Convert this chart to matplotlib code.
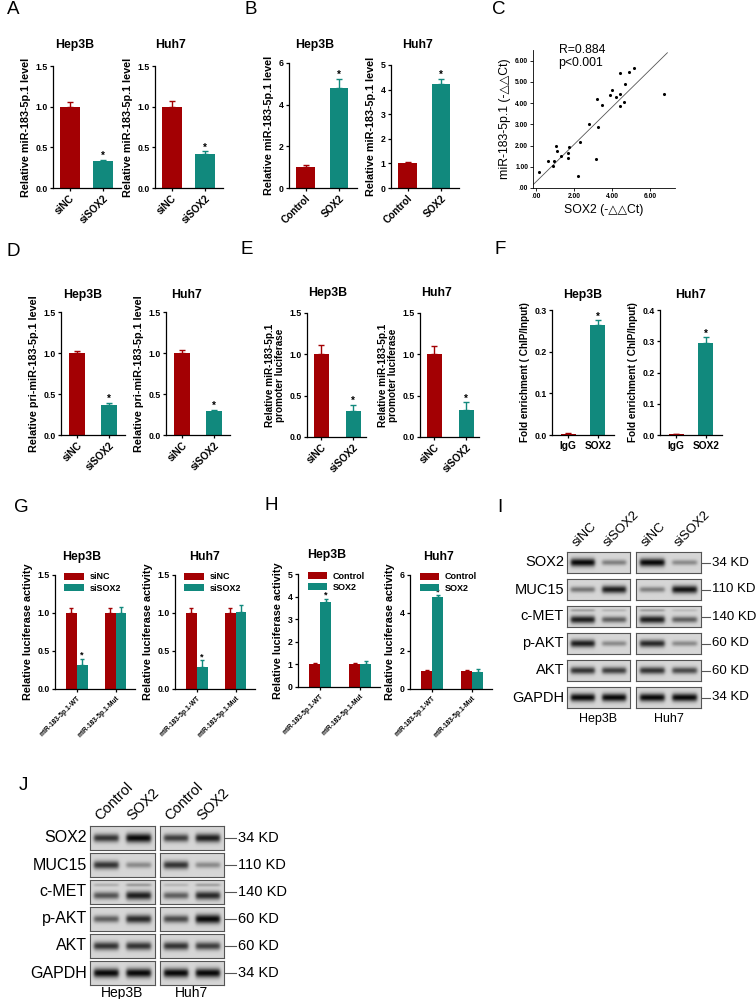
import numpy as np
import matplotlib
matplotlib.use('Agg')
import matplotlib.pyplot as plt
from matplotlib.lines import Line2D

plt.rcParams['font.family'] = ['Liberation Sans', 'DejaVu Sans']

W, H = 756, 999
RED = '#a30003'
TEAL = '#11897d'

# ---------------- data ----------------
si_names = ['siNC', 'siSOX2']
oe_names = ['Control', 'SOX2']
chip_names = ['IgG', 'SOX2']
luc_names = ['miR-183-5p.1-WT', 'miR-183-5p.1-Mut']

# A: miR-183-5p.1 after SOX2 knockdown
A_hep = [1.00, 0.33]
A_hep_err = [0.06, 0.02]
A_huh = [1.00, 0.42]
A_huh_err = [0.07, 0.03]

# B: miR-183-5p.1 after SOX2 overexpression
B_hep = [1.00, 4.82]
B_hep_err = [0.09, 0.42]
B_huh = [1.00, 4.22]
B_huh_err = [0.07, 0.22]

# C: correlation in tissues
C_sox2 = [0.18, 0.65, 0.88, 0.93, 1.04, 1.12, 1.32, 1.70, 1.68, 1.75, 2.21, 2.33,
          2.81, 3.16, 3.19, 3.28, 3.47, 3.89, 3.98, 4.18, 4.44, 4.44, 4.44, 4.65,
          4.68, 4.91, 5.16, 6.70]
C_mir = [0.74, 1.26, 1.05, 1.26, 1.99, 1.73, 1.52, 1.41, 1.66, 1.93, 0.58, 2.18,
         3.00, 1.37, 4.19, 2.86, 3.89, 4.40, 4.60, 4.30, 5.43, 4.41, 3.88, 4.07,
         4.90, 5.46, 5.67, 4.43]
C_fit_x = [-0.15, 6.9]
C_fit_y = [0.15, 6.37]

# D: pri-miR-183-5p.1
D_hep = [1.00, 0.36]
D_hep_err = [0.03, 0.03]
D_huh = [1.00, 0.29]
D_huh_err = [0.04, 0.02]

# E: promoter luciferase
E_hep = [1.00, 0.32]
E_hep_err = [0.11, 0.07]
E_huh = [1.00, 0.33]
E_huh_err = [0.10, 0.09]

# F: ChIP
F_hep = [0.003, 0.265]
F_hep_err = [0.002, 0.010]
F_huh = [0.002, 0.293]
F_huh_err = [0.001, 0.020]

# G: luciferase WT / Mut, siNC vs siSOX2
G_hep_nc = [1.00, 1.00]
G_hep_nc_err = [0.06, 0.06]
G_hep_si = [0.31, 1.00]
G_hep_si_err = [0.09, 0.08]
G_huh_nc = [1.00, 1.00]
G_huh_nc_err = [0.07, 0.07]
G_huh_si = [0.29, 1.01]
G_huh_si_err = [0.09, 0.09]

# H: luciferase WT / Mut, Control vs SOX2
H_hep_ctl = [1.00, 1.00]
H_hep_ctl_err = [0.08, 0.08]
H_hep_sox = [3.78, 1.00]
H_hep_sox_err = [0.12, 0.16]
H_huh_ctl = [0.95, 0.93]
H_huh_ctl_err = [0.05, 0.08]
H_huh_sox = [4.85, 0.92]
H_huh_sox_err = [0.10, 0.12]

# tick labels
t15 = ['0.0', '0.5', '1.0', '1.5']
t15_v = [0, 0.5, 1.0, 1.5]

# I / J western blots (band darkness 0..1, per lane)
wb_proteins = ['SOX2', 'MUC15', 'c-MET', 'p-AKT', 'AKT', 'GAPDH']
wb_kd = ['34 KD', '110 KD', '140 KD', '60 KD', '60 KD', '34 KD']
I_lanes = ['siNC', 'siSOX2']
I_hep = [[0.95, 0.40], [0.45, 0.85], [0.85, 0.55], [0.85, 0.35], [0.75, 0.70], [0.95, 0.95]]
I_huh = [[0.95, 0.35], [0.40, 0.90], [0.85, 0.55], [0.80, 0.35], [0.75, 0.65], [0.95, 0.95]]
I_cmet_upper = [[0.25, 0.15], [0.25, 0.12]]
J_lanes = ['Control', 'SOX2']
J_hep = [[0.75, 0.95], [0.75, 0.35], [0.60, 0.85], [0.55, 0.80], [0.75, 0.75], [0.95, 0.95]]
J_huh = [[0.70, 0.85], [0.75, 0.35], [0.55, 0.80], [0.65, 0.95], [0.75, 0.70], [0.95, 0.95]]
J_cmet_upper = [[0.18, 0.28], [0.15, 0.25]]
cells = ['Hep3B', 'Huh7']

# ---------------- figure ----------------
fig = plt.figure(figsize=(W / 100, H / 100), dpi=100)


def box(x0, y0, x1, y1):
    return fig.add_axes([x0 / W, 1 - y1 / H, (x1 - x0) / W, (y1 - y0) / H])


def ftext(x, y, s, **kw):
    fig.text(x / W, 1 - y / H, s, **kw)


def style(ax, yt, ytl, ylabel, ylfs=7.8):
    for s in ['top', 'right']:
        ax.spines[s].set_visible(False)
    for s in ['left', 'bottom']:
        ax.spines[s].set_linewidth(0.9)
    ax.set_ylim(0, yt[-1])
    ax.set_yticks(yt)
    ax.set_yticklabels(ytl, fontsize=6.3, fontweight='bold')
    ax.tick_params(length=2.5, width=0.9, pad=1.5)
    ax.set_ylabel(ylabel, fontsize=ylfs, fontweight='bold', labelpad=3, linespacing=1.0)


def two_bar(pos, vals, errs, names, yt, ytl, ylabel, title, txy, width=0.6,
            xlim=(-0.5, 1.55), rot=True, ylfs=7.8):
    ax = box(*pos)
    x = np.arange(len(vals))
    cols = [RED, TEAL]
    ax.bar(x, vals, width, color=cols)
    for xi, v, e, c in zip(x, vals, errs, cols):
        ax.errorbar(xi, v, yerr=[[0], [e]], color=c, capsize=2, elinewidth=1, capthick=1)
    ax.text(x[1], vals[1] + errs[1] - 0.01 * yt[-1], '*', ha='center', va='bottom',
            fontsize=7, fontweight='bold')
    ax.set_xlim(*xlim)
    ax.set_xticks(x)
    if rot:
        ax.set_xticklabels(names, rotation=45, ha='right', rotation_mode='anchor',
                           fontsize=7.3, fontweight='bold')
    else:
        ax.set_xticklabels(names, fontsize=7.3, fontweight='bold')
    style(ax, yt, ytl, ylabel, ylfs)
    ftext(txy[0], txy[1], title, ha='center', va='center', fontsize=8.8, fontweight='bold')
    return ax


def group_bar(pos, s1, e1, s2, e2, leg, yt, ytl, title, txy):
    ax = box(*pos)
    x = np.arange(2)
    w = 0.28
    ax.bar(x - w / 2, s1, w, color=RED, label=leg[0])
    ax.bar(x + w / 2, s2, w, color=TEAL, label=leg[1])
    for xi, v, e in zip(x - w / 2, s1, e1):
        ax.errorbar(xi, v, yerr=[[0], [e]], color=RED, capsize=1.6, elinewidth=1, capthick=1)
    for xi, v, e in zip(x + w / 2, s2, e2):
        ax.errorbar(xi, v, yerr=[[0], [e]], color=TEAL, capsize=1.6, elinewidth=1, capthick=1)
    ax.text(x[0] + w / 2, s2[0] + e2[0] - 0.01 * yt[-1], '*', ha='center', va='bottom',
            fontsize=6.5, fontweight='bold')
    ax.set_xlim(-0.56, 1.5)
    ax.set_xticks(x)
    ax.set_xticklabels(luc_names, rotation=45, ha='right', rotation_mode='anchor',
                       fontsize=4.8, fontweight='bold')
    style(ax, yt, ytl, 'Relative luciferase activity')
    ax.legend(loc='upper left', bbox_to_anchor=(0.05, 1.07), frameon=False,
              prop={'size': 6.5, 'weight': 'bold'}, handlelength=2.2, handleheight=0.9,
              labelspacing=0.25, borderpad=0.1, handletextpad=0.6)
    ftext(txy[0], txy[1], title, ha='center', va='center', fontsize=8.8, fontweight='bold')
    return ax


# panel letters
for lab, (lx, ly) in {'A': (7, 10), 'B': (244, 10), 'C': (492, 10), 'D': (7, 252),
                      'E': (241, 250), 'F': (494, 250), 'G': (14, 507), 'H': (264, 506),
                      'I': (497, 507), 'J': (19, 785)}.items():
    ftext(lx, ly, lab, ha='left', va='center', fontsize=13.5)

ylab_mir = 'Relative miR-183-5p.1 level'
two_bar((53, 66, 121, 188), A_hep, A_hep_err, si_names, t15_v, t15, ylab_mir, 'Hep3B', (75, 45))
two_bar((155, 66, 223, 188), A_huh, A_huh_err, si_names, t15_v, t15, ylab_mir, 'Huh7', (170, 45))

two_bar((289, 63, 357, 188), B_hep, B_hep_err, oe_names, [0, 2, 4, 6], ['0', '2', '4', '6'],
        ylab_mir, 'Hep3B', (315, 45), width=0.55)
two_bar((391, 65, 459, 188), B_huh, B_huh_err, oe_names, [0, 1, 2, 3, 4, 5],
        ['0', '1', '2', '3', '4', '5'], ylab_mir, 'Huh7', (417, 45), width=0.55)

# C scatter
axc = box(533, 50, 675, 188)
axc.scatter(C_sox2, C_mir, s=1.5, color='black', zorder=3)
axc.plot(C_fit_x, C_fit_y, color='#555555', lw=0.6)
axc.set_xlim(-0.15, 7.3)
axc.set_ylim(0, 6.5)
axc.set_xticks([0, 2, 4, 6])
axc.set_xticklabels(['.00', '2.00', '4.00', '6.00'], fontsize=4.8, fontweight='bold')
axc.set_yticks([0, 1, 2, 3, 4, 5, 6])
axc.set_yticklabels(['.00', '1.00', '2.00', '3.00', '4.00', '5.00', '6.00'], fontsize=4.8,
                    fontweight='bold')
for s in ['top', 'right']:
    axc.spines[s].set_visible(False)
for s in ['left', 'bottom']:
    axc.spines[s].set_linewidth(0.6)
axc.tick_params(length=2, width=0.6, pad=1.5)
axc.set_ylabel('miR-183-5p.1 (-△△Ct)', fontsize=8.8, labelpad=3)
axc.set_xlabel('SOX2 (-△△Ct)', fontsize=8.8, labelpad=3)
axc.text(0.18, 1.04, 'R=0.884\np<0.001', transform=axc.transAxes, ha='left', va='top',
         fontsize=8.8, linespacing=1.05)

# D
ylab_pri = 'Relative pri-miR-183-5p.1 level'
two_bar((61, 312, 125, 435), D_hep, D_hep_err, si_names, t15_v, t15, ylab_pri, 'Hep3B',
        (83, 295), width=0.48, xlim=(-0.5, 1.5))
two_bar((166, 312, 230, 435), D_huh, D_huh_err, si_names, t15_v, t15, ylab_pri, 'Huh7',
        (187, 295), width=0.48, xlim=(-0.5, 1.5))

# E
ylab_pro = 'Relative miR-183-5p.1\npromoter luciferase'
two_bar((307, 313, 366, 437), E_hep, E_hep_err, si_names, t15_v, t15, ylab_pro, 'Hep3B',
        (328, 293), width=0.48, xlim=(-0.45, 1.4), ylfs=7.2)
two_bar((420, 313, 479, 437), E_huh, E_huh_err, si_names, t15_v, t15, ylab_pro, 'Huh7',
        (436, 293), width=0.48, xlim=(-0.45, 1.4), ylfs=7.2)

# F
ylab_chip = 'Fold enrichment ( ChIP/Input)'
two_bar((552, 310, 614, 435), F_hep, F_hep_err, chip_names, [0, 0.1, 0.2, 0.3],
        ['0.0', '0.1', '0.2', '0.3'], ylab_chip, 'Hep3B', (583, 295), width=0.5,
        xlim=(-0.55, 1.55), rot=False, ylfs=7.2)
two_bar((660, 310, 722, 435), F_huh, F_huh_err, chip_names, [0, 0.1, 0.2, 0.3, 0.4],
        ['0.0', '0.1', '0.2', '0.3', '0.4'], ylab_chip, 'Huh7', (690, 295), width=0.5,
        xlim=(-0.55, 1.55), rot=False, ylfs=7.2)

# G
group_bar((55, 575, 135, 689), G_hep_nc, G_hep_nc_err, G_hep_si, G_hep_si_err, si_names,
          t15_v, t15, 'Hep3B', (82, 557))
group_bar((175, 575, 255, 689), G_huh_nc, G_huh_nc_err, G_huh_si, G_huh_si_err, si_names,
          t15_v, t15, 'Huh7', (204, 557))

# H
group_bar((298, 574, 380, 687), H_hep_ctl, H_hep_ctl_err, H_hep_sox, H_hep_sox_err,
          oe_names, [0, 1, 2, 3, 4, 5], ['0', '1', '2', '3', '4', '5'], 'Hep3B', (327, 555))
group_bar((410, 575, 492, 689), H_huh_ctl, H_huh_ctl_err, H_huh_sox, H_huh_sox_err,
          oe_names, [0, 2, 4, 6], ['0', '2', '4', '6'], 'Huh7', (438, 557))


# western blots
def band_image(levels, upper=None):
    xs = np.linspace(0, 2, 200)
    ys = np.linspace(0, 1, 50)
    X, Y = np.meshgrid(xs, ys)
    img = np.full_like(X, 0.84)
    for i, lev in enumerate(levels):
        px = 1 / (1 + np.exp((np.abs(X - (i + 0.5)) - 0.38) / 0.03))
        cy = 0.35 if upper is not None else 0.5
        sy = 0.09 + 0.11 * lev
        img -= 0.85 * lev * px * np.exp(-((Y - cy) / sy) ** 2)
        if upper is not None:
            img -= 0.85 * upper[i] * px * np.exp(-((Y - 0.8) / 0.07) ** 2)
    return np.clip(img, 0, 1)


def blot(lefts, rights, tops, rh, lv_a, lv_b, upper, lanes, fs, kd_x, cell_y):
    for r, prot in enumerate(wb_proteins):
        for b, lv in enumerate([lv_a, lv_b]):
            ax = box(lefts[b], tops[r], rights[b], tops[r] + rh)
            up = upper[b] if prot == 'c-MET' else None
            ax.imshow(band_image(lv[r], up), cmap='gray', vmin=0, vmax=1, aspect='auto',
                      origin='lower', extent=(0, 2, 0, 1), interpolation='bilinear')
            ax.set_xticks([])
            ax.set_yticks([])
            for s in ax.spines.values():
                s.set_linewidth(0.8)
                s.set_color('#555555')
        yc = tops[r] + rh / 2
        ftext(lefts[0] - 3, yc, prot, ha='right', va='center', fontsize=fs)
        fig.add_artist(Line2D([(rights[1] + 1) / W, kd_x[0] / W], [1 - yc / H] * 2,
                              color='#555555', lw=0.8))
        ftext(kd_x[1], yc, wb_kd[r], ha='left', va='center', fontsize=fs - 1)
    for b in range(2):
        lw_ = (rights[b] - lefts[b]) / 2
        for k, name in enumerate(lanes):
            ftext(lefts[b] + lw_ * (k + 0.5) - 4, tops[0] - 3, name, rotation=45,
                  rotation_mode='anchor', ha='left', va='bottom', fontsize=fs - 1)
        ftext((lefts[b] + rights[b]) / 2, cell_y, cells[b], ha='center', va='center',
              fontsize=fs - 1.5)


blot([567, 636], [630, 701], [552, 579, 606, 633, 660, 687], 21, I_hep, I_huh, I_cmet_upper,
     I_lanes, 10.5, (710, 712), 719)
blot([90, 160], [155, 224], [826, 853, 880, 907, 934, 961], 24, J_hep, J_huh, J_cmet_upper,
     J_lanes, 11.5, (236, 238), 993)

fig.savefig('out.png', dpi=100)
